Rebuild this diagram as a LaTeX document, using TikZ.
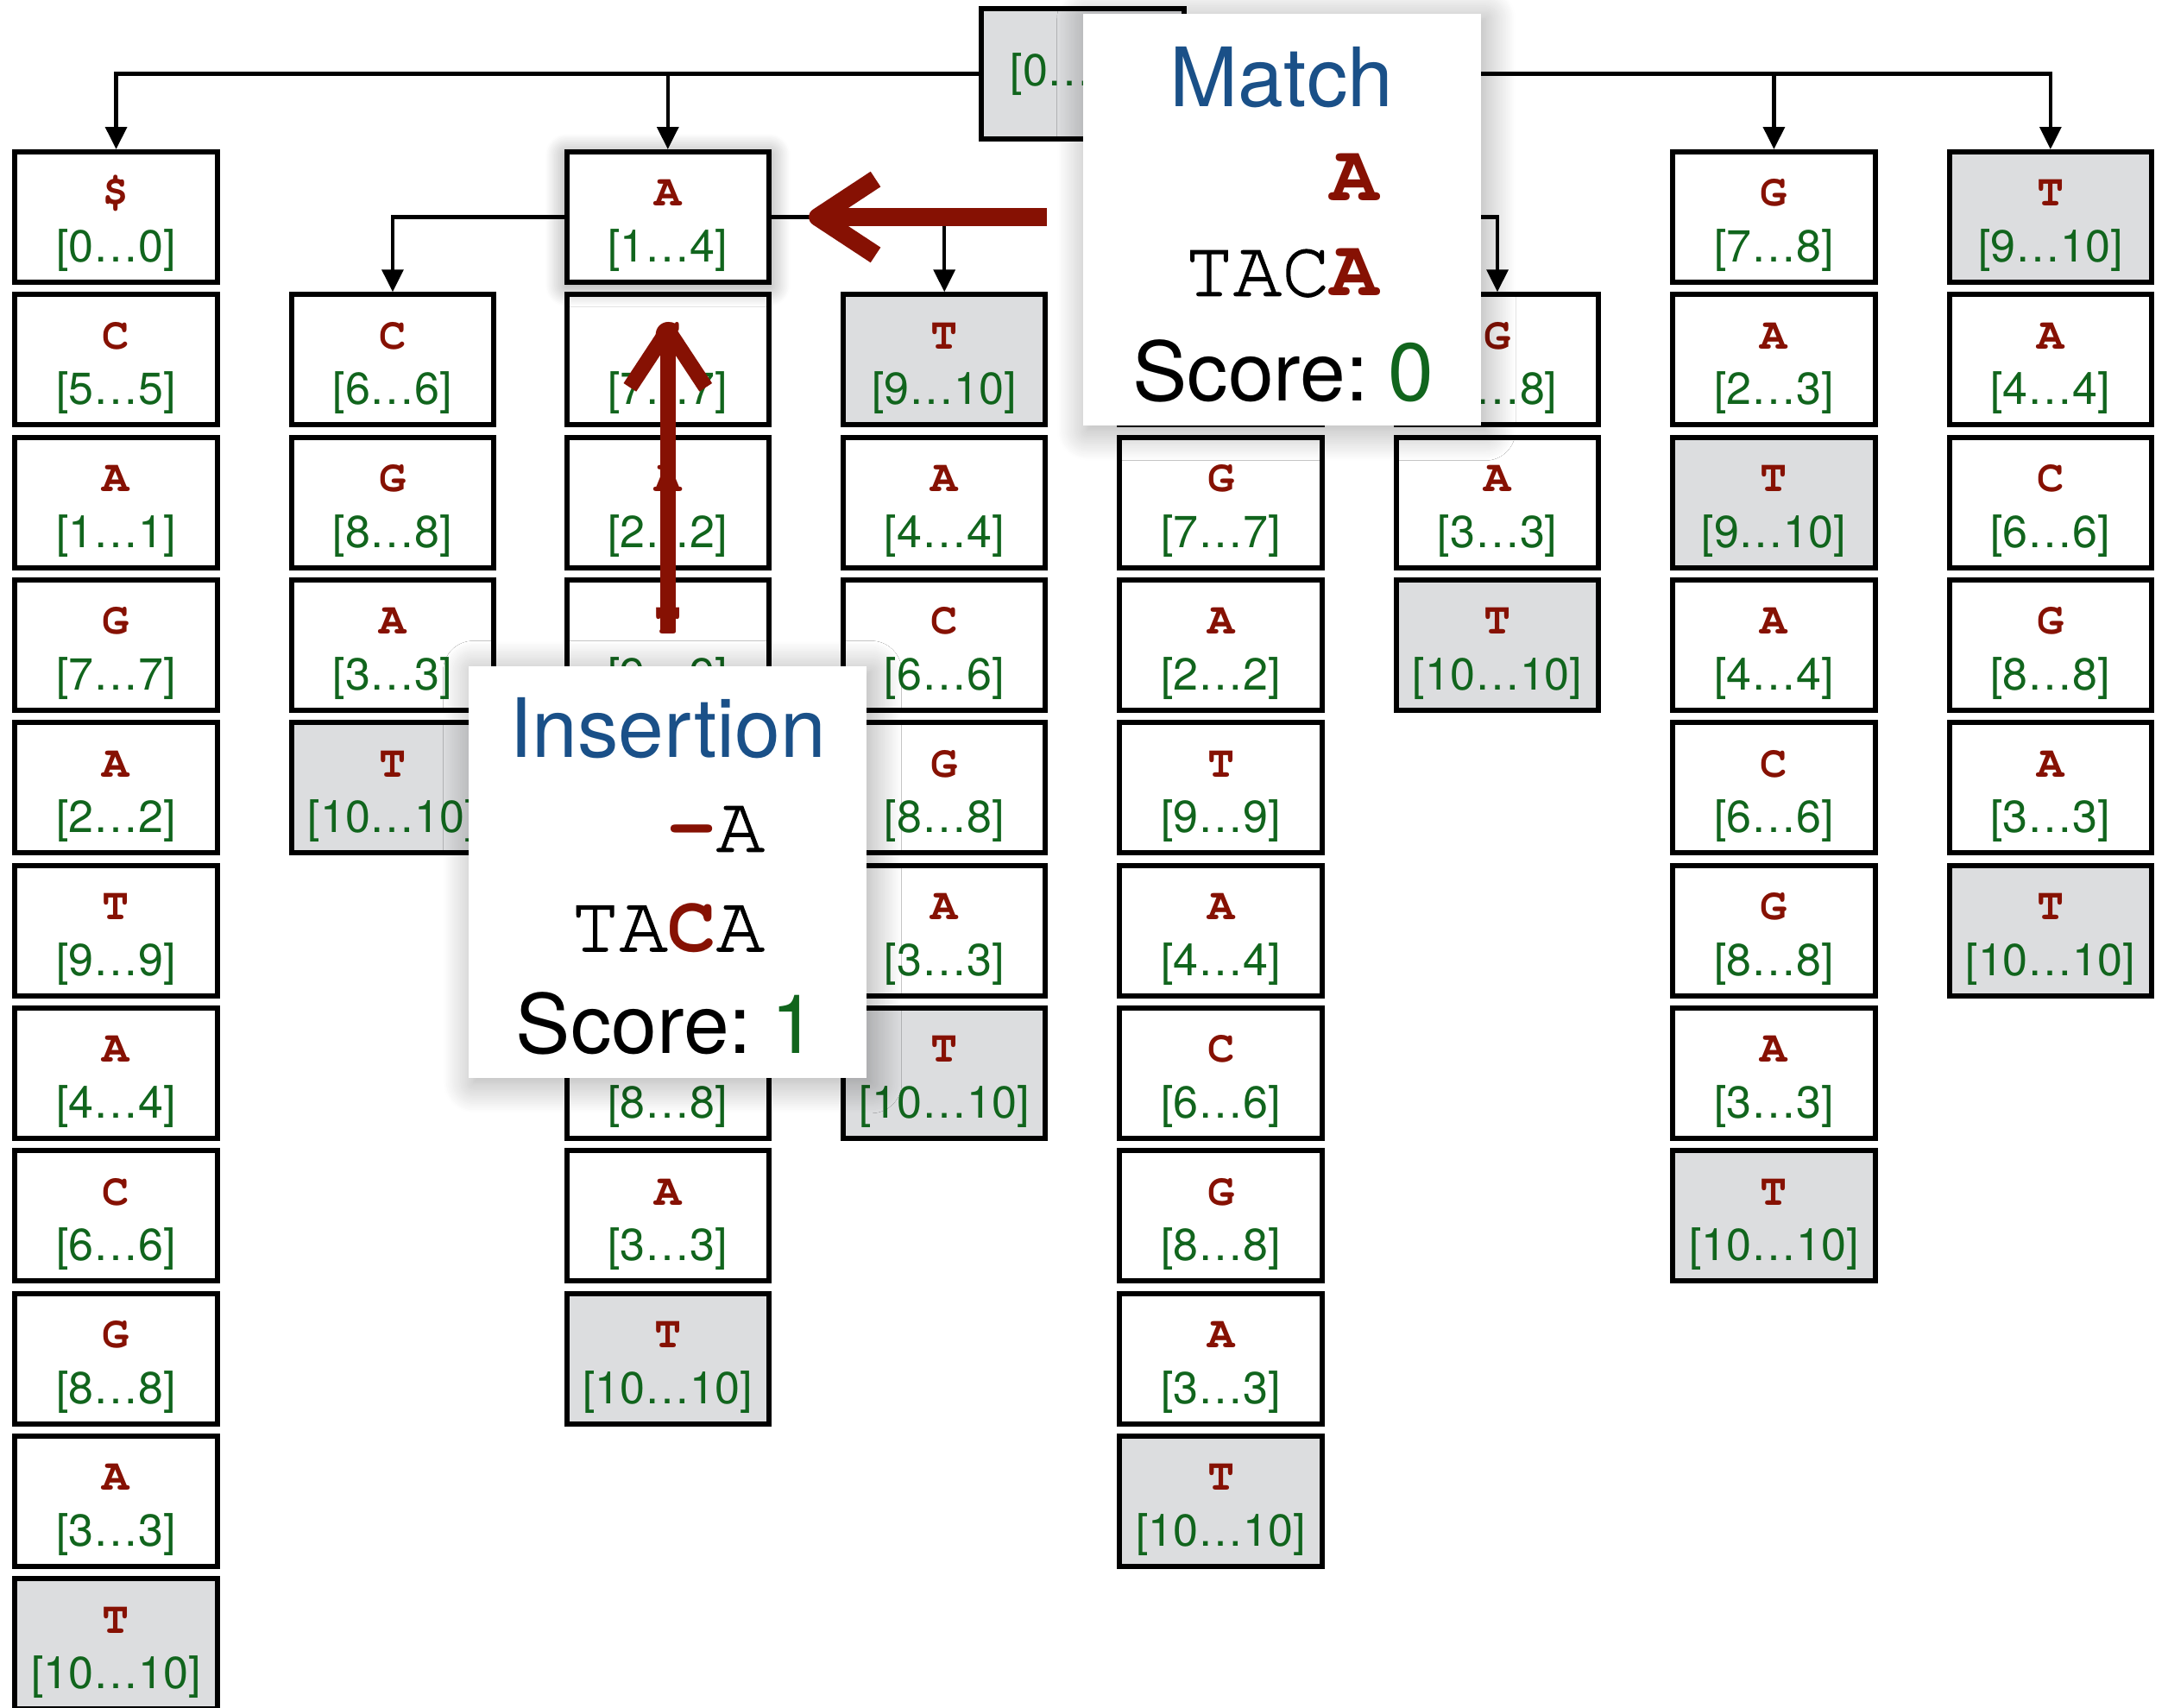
\documentclass[tikz,border=0pt]{standalone}
\usepackage{fontspec}
\usetikzlibrary{arrows.meta,shadows,shadows.blur}

\newfontfamily\herosfont{TeX Gyre Heros}
\newfontfamily\cursorfont{texgyrecursor}[Extension=.otf, UprightFont=*-regular, BoldFont=*-bold]
\newfontfamily\readfont{texgyrecursor}[Extension=.otf, UprightFont=*-regular, BoldFont=*-bold, UprightFeatures={FakeBold=1.3}]

\definecolor{basered}{RGB}{134,17,3}
\definecolor{rangegreen}{RGB}{17,101,29}
\definecolor{titleblue}{RGB}{26,80,136}
\definecolor{endgray}{RGB}{220,221,223}

% letra arriba, intervalo abajo
\newcommand{\bwtcell}[2]{{\cursorfont\bfseries\color{basered}#1}\\{\herosfont\color{rangegreen}#2}}

\begin{document}
\begin{tikzpicture}[
    x=0.1602mm, y=-0.1602mm,
    box/.style={rectangle, draw=black, line width=1.7pt, fill=white, minimum width=23.45mm, minimum height=15.1mm, inner sep=0pt, align=center, font=\fontsize{14.8}{18.4}\selectfont},
    cell/.style={box, text height=33.6pt, text depth=4pt},
    link/.style={draw=black, line width=1.3pt, -{Triangle[length=7.4pt, width=7pt]}},
    redarrow/.style={draw=basered, line width=6pt, -{Straight Barb[length=19pt, width=25pt, line join=round]}},
    panel/.style={rectangle, fill=white, minimum width=46.1mm, minimum height=47.7mm, inner sep=0pt, blur shadow={shadow xshift=1.5pt, shadow yshift=-1.5pt, shadow blur radius=10pt, shadow blur steps=20, shadow opacity=35}},
    paneltext/.style={anchor=base, inner sep=0pt, font=\fontsize{27}{32}\selectfont\herosfont},
    monotext/.style={anchor=base, inner sep=0pt, font=\fontsize{26.6}{32}\selectfont\readfont}
]

\useasboundingbox (0,0) rectangle (1568,1235);
\clip (0,0) rectangle (1568,1235);

% ============================================
% RAIZ
% ============================================
\node[box, fill=endgray, text=rangegreen] (root) at (783,53.5) {\herosfont [0…10]};

% ============================================
% COLUMNAS (color de fondo / letra / intervalo)
% ============================================

% Columna 1 ($)
\foreach \fl/\ch/\rg [count=\rw] in {white/\$/{[0…0]}, white/C/{[5…5]}, white/A/{[1…1]}, white/G/{[7…7]}, white/A/{[2…2]}, white/T/{[9…9]}, white/A/{[4…4]}, white/C/{[6…6]}, white/G/{[8…8]}, white/A/{[3…3]}, endgray/T/{[10…10]}}
    \node[cell, fill=\fl] (c1r\rw) at (84,{157+103.2*(\rw-1)}) {\bwtcell{\ch}{\rg}};

% Columna 2 (AC)
\foreach \fl/\ch/\rg [count=\rw from 2] in {white/C/{[6…6]}, white/G/{[8…8]}, white/A/{[3…3]}, endgray/T/{[10…10]}}
    \node[cell, fill=\fl] (c2r\rw) at (284,{157+103.2*(\rw-1)}) {\bwtcell{\ch}{\rg}};

% Columna 3 (A)
\foreach \fl/\ch/\rg [count=\rw from 2] in {white/G/{[7…7]}, white/A/{[2…2]}, white/T/{[9…9]}, white/A/{[4…4]}, white/C/{[6…6]}, white/G/{[8…8]}, white/A/{[3…3]}, endgray/T/{[10…10]}}
    \node[cell, fill=\fl] (c3r\rw) at (483,{157+103.2*(\rw-1)}) {\bwtcell{\ch}{\rg}};

% Columna 4 (AT)
\foreach \fl/\ch/\rg [count=\rw from 2] in {endgray/T/{[9…10]}, white/A/{[4…4]}, white/C/{[6…6]}, white/G/{[8…8]}, white/A/{[3…3]}, endgray/T/{[10…10]}}
    \node[cell, fill=\fl] (c4r\rw) at (683,{157+103.2*(\rw-1)}) {\bwtcell{\ch}{\rg}};

% Columna 5 (C)
\foreach \fl/\ch/\rg [count=\rw] in {white/C/{[5…6]}, white/A/{[1…1]}, white/G/{[7…7]}, white/A/{[2…2]}, white/T/{[9…9]}, white/A/{[4…4]}, white/C/{[6…6]}, white/G/{[8…8]}, white/A/{[3…3]}, endgray/T/{[10…10]}}
    \node[cell, fill=\fl] (c5r\rw) at (883,{157+103.2*(\rw-1)}) {\bwtcell{\ch}{\rg}};

% Columna 6 (CG)
\foreach \fl/\ch/\rg [count=\rw from 2] in {white/G/{[8…8]}, white/A/{[3…3]}, endgray/T/{[10…10]}}
    \node[cell, fill=\fl] (c6r\rw) at (1083,{157+103.2*(\rw-1)}) {\bwtcell{\ch}{\rg}};

% Columna 7 (G)
\foreach \fl/\ch/\rg [count=\rw] in {white/G/{[7…8]}, white/A/{[2…3]}, endgray/T/{[9…10]}, white/A/{[4…4]}, white/C/{[6…6]}, white/G/{[8…8]}, white/A/{[3…3]}, endgray/T/{[10…10]}}
    \node[cell, fill=\fl] (c7r\rw) at (1283,{157+103.2*(\rw-1)}) {\bwtcell{\ch}{\rg}};

% Columna 8 (T)
\foreach \fl/\ch/\rg [count=\rw] in {endgray/T/{[9…10]}, white/A/{[4…4]}, white/C/{[6…6]}, white/G/{[8…8]}, white/A/{[3…3]}, endgray/T/{[10…10]}}
    \node[cell, fill=\fl] (c8r\rw) at (1483,{157+103.2*(\rw-1)}) {\bwtcell{\ch}{\rg}};

% Nodo A resaltado (con sombra)
\node[cell, blur shadow={shadow xshift=0pt, shadow yshift=-1pt, shadow blur radius=7pt, shadow blur steps=15, shadow opacity=45}] (c3r1) at (483,157) {\bwtcell{A}{[1…4]}};

% ============================================
% ARISTAS
% ============================================
\draw[link] (root.west) -| (c1r1.north);
\draw[link] (root.west) -| (c3r1.north);
\draw[link] (root.east) -| (c5r1.north);
\draw[link] (root.east) -| (c7r1.north);
\draw[link] (root.east) -| (c8r1.north);
\draw[link] (c3r1.west) -| (c2r2.north);
\draw[link] (c3r1.east) -| (c4r2.north);
\draw[link] (c5r1.east) -| (c6r2.north);

% ============================================
% FLECHAS ROJAS
% ============================================
\coordinate (matchtail) at (757,157);
\coordinate (matchtip) at (585,157);
\draw[redarrow] (matchtail) -- (matchtip);

\coordinate (instail) at (483,457);
\coordinate (instip) at (483,233);
\draw[redarrow, line width=5pt] (instail) -- (instip);

% ============================================
% PANEL MATCH
% ============================================
\node[panel] (matchpanel) at (927,159) {};
\node[paneltext, text=titleblue] (matchtitle) at (927,77) {Match};
\node[monotext] (matchread) at (927,145) {\phantom{TAC}{\bfseries\color{basered}A}};
\node[monotext] (matchref) at (927,214) {TAC{\bfseries\color{basered}A}};
\node[paneltext] (matchscore) at (928,290) {Score:\hspace{0.24em}{\color{rangegreen}0}};

% ============================================
% PANEL INSERTION
% ============================================
\node[panel] (inspanel) at (483,631) {};
\node[paneltext, text=titleblue] (institle) at (483,548) {Insertion};
\node[monotext] (insread) at (483,616) {\phantom{TA}{\bfseries\color{basered}–}A};
\node[monotext] (insref) at (483,688) {TA{\bfseries\color{basered}C}A};
\node[paneltext] (insscore) at (482,762) {Score:\hspace{0.24em}{\color{rangegreen}1}};

\end{tikzpicture}
\end{document}
